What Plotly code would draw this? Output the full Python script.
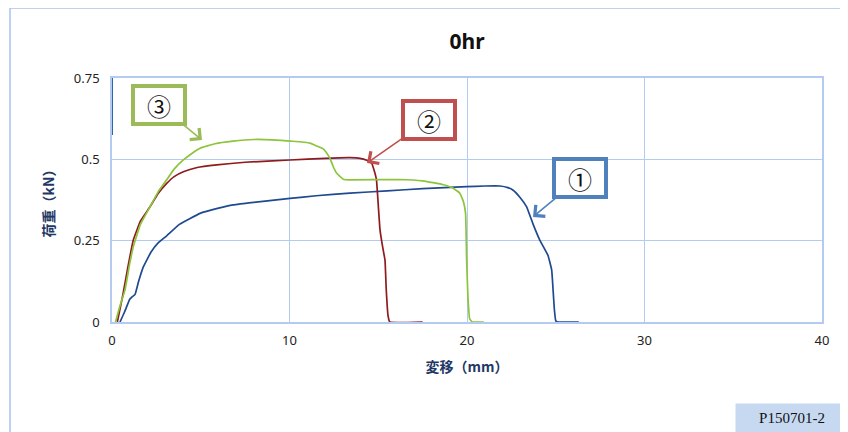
import plotly.graph_objects as go

# ---- data ----
s1_x = [0.45, 0.7, 1.0, 1.15, 1.3, 1.5, 1.77, 2.2, 2.6, 3.08, 3.8, 4.96, 6.0, 6.82, 8.5, 10.03,
        11.5, 13.4, 15.5, 17.5, 19.98, 21.0, 21.86, 22.3, 22.6, 23.0, 23.36, 23.7, 24.1, 24.56,
        24.77, 24.85, 24.92, 25.0, 25.1, 26.3]
s1_y = [0.0, 0.03, 0.07, 0.078, 0.085, 0.125, 0.17, 0.215, 0.243, 0.265, 0.3, 0.334, 0.35, 0.36,
        0.371, 0.38, 0.388, 0.396, 0.403, 0.41, 0.416, 0.418, 0.418, 0.413, 0.405, 0.382, 0.354,
        0.304, 0.252, 0.205, 0.16, 0.098, 0.04, 0.004, 0.0, 0.0]

s2_x = [0.3, 0.6, 0.9, 1.2, 1.6, 2.14, 2.6, 3.08, 3.5, 4.02, 4.8, 5.9, 7.5, 10.03, 12.0, 13.4,
        13.97, 14.35, 14.63, 14.8, 14.9, 15.0, 15.1, 15.25, 15.38, 15.45, 15.55, 15.65, 17.5]
s2_y = [0.0, 0.08, 0.17, 0.252, 0.31, 0.354, 0.395, 0.426, 0.447, 0.462, 0.475, 0.483, 0.491,
        0.498, 0.503, 0.505, 0.503, 0.497, 0.488, 0.46, 0.437, 0.36, 0.283, 0.23, 0.19, 0.1,
        0.02, 0.0, 0.0]

s3_x = [0.2, 0.45, 0.73, 1.0, 1.2, 1.6, 2.14, 2.6, 3.08, 3.5, 4.02, 4.5, 4.96, 5.8, 6.82, 8.0,
        9.0, 10.03, 10.6, 11.2, 11.53, 11.9, 12.15, 12.28, 12.46, 12.66, 13.03, 13.4, 16.2, 17.5,
        18.66, 19.2, 19.6, 19.8, 19.92, 19.98, 20.05, 20.15, 20.3, 20.95]
s3_y = [0.0, 0.05, 0.098, 0.18, 0.231, 0.3, 0.354, 0.4, 0.437, 0.47, 0.498, 0.518, 0.534, 0.548,
        0.556, 0.561, 0.56, 0.556, 0.554, 0.549, 0.541, 0.532, 0.515, 0.503, 0.478, 0.457, 0.439,
        0.437, 0.438, 0.434, 0.422, 0.412, 0.396, 0.37, 0.334, 0.19, 0.08, 0.01, 0.0, 0.0]

x_ticks = [0, 10, 20, 30, 40]
y_ticks = [0, 0.25, 0.5, 0.75]
y_tick_text = ["0", "0.25", "0.5", "0.75"]

labels = ["①", "②", "③"]
line_colors = ["#1F4A8F", "#8E1B1E", "#8CC43C"]
box_colors = ["#4F81BD", "#C0504D", "#9BBB59"]

# ---- figure ----
fig = go.Figure()
for xs, ys, c, name in [(s1_x, s1_y, line_colors[0], labels[0]),
                        (s2_x, s2_y, line_colors[1], labels[1]),
                        (s3_x, s3_y, line_colors[2], labels[2])]:
    fig.add_trace(go.Scatter(x=xs, y=ys, mode="lines", name=name,
                             line=dict(color=c, width=1.7, shape="spline", smoothing=0.3),
                             showlegend=False, hoverinfo="skip"))

grid_c = "#B3CBF0"
axis_font = dict(family="Noto Sans, DejaVu Sans, sans-serif", size=13, color="#222222")
title_font = dict(family="Noto Sans CJK JP, Noto Sans, sans-serif", size=14, color="#1F3864")

W, H = 840, 424  # page body has an 8px margin
fig.update_layout(
    width=W, height=H,
    margin=dict(l=104, r=26, t=70, b=110),
    paper_bgcolor="white", plot_bgcolor="white",
    title=dict(text="<b>0hr</b>", x=0.5, xref="paper", xanchor="center",
               y=1 - 34 / H, yanchor="middle",
               font=dict(family="Noto Sans, DejaVu Sans, sans-serif", size=21, color="#111111")),
    xaxis=dict(range=[0, 40], tickvals=x_ticks, showgrid=True, gridcolor=grid_c, gridwidth=1,
               zeroline=False, showline=True, linecolor=grid_c, linewidth=1.5, mirror=True,
               ticks="", tickfont=axis_font, ticklabelstandoff=6,
               title=dict(text="<b>変移（mm）</b>", font=title_font, standoff=14)),
    yaxis=dict(range=[0, 0.75], tickvals=y_ticks, ticktext=y_tick_text, showgrid=True,
               gridcolor=grid_c, gridwidth=1, zeroline=False, showline=True, linecolor=grid_c,
               linewidth=1.5, mirror=True, ticks="", tickfont=axis_font, ticklabelstandoff=8,
               title=dict(text="<b>荷重（kN）</b>", font=title_font, standoff=16)),
)

# outer chart frame (right and bottom edges fall outside the picture)
fig.add_shape(type="rect", xref="paper", yref="paper",
              x0=(10 - 112) / 710, x1=1.3, y0=-0.8, y1=(322 - 8) / 244,
              line=dict(color="#A9C3EC", width=1.5), fillcolor="rgba(0,0,0,0)", layer="below")
# darker partial segment on the left axis
fig.add_shape(type="line", xref="x", yref="y", x0=0, x1=0, y0=0.575, y1=0.75,
              line=dict(color="#2F63B3", width=2))

# callout boxes with arrows
callouts = [
    (labels[0], 23.72, 0.323, 47, -39, box_colors[0]),
    (labels[1], 14.37, 0.489, 62, -43, box_colors[1]),
    (labels[2], 5.07, 0.5595, -43, -35, box_colors[2]),
]
for txt, tx, ty, ax, ay, c in callouts:
    fig.add_annotation(x=tx, y=ty, xref="x", yref="y", ax=ax, ay=ay,
                       text=txt, showarrow=True, arrowhead=4, arrowsize=1.8, arrowwidth=1.6,
                       arrowcolor=c, standoff=0,
                       font=dict(family="Noto Sans CJK JP, sans-serif", size=24, color="#111111"),
                       bgcolor="white", bordercolor=c, borderwidth=4, borderpad=0,
                       width=48, height=34, align="center", valign="middle")

# sample label at bottom-right
fig.add_annotation(xref="paper", yref="paper", x=(792 - 112) / 710, y=(322 - 418) / 244,
                   text="P150701-2", showarrow=False, bgcolor="#C6D9F1",
                   font=dict(family="Liberation Serif, serif", size=15, color="#111111"),
                   width=110, height=26, borderpad=1, xanchor="center", yanchor="middle")

fig.write_html("out.html")
